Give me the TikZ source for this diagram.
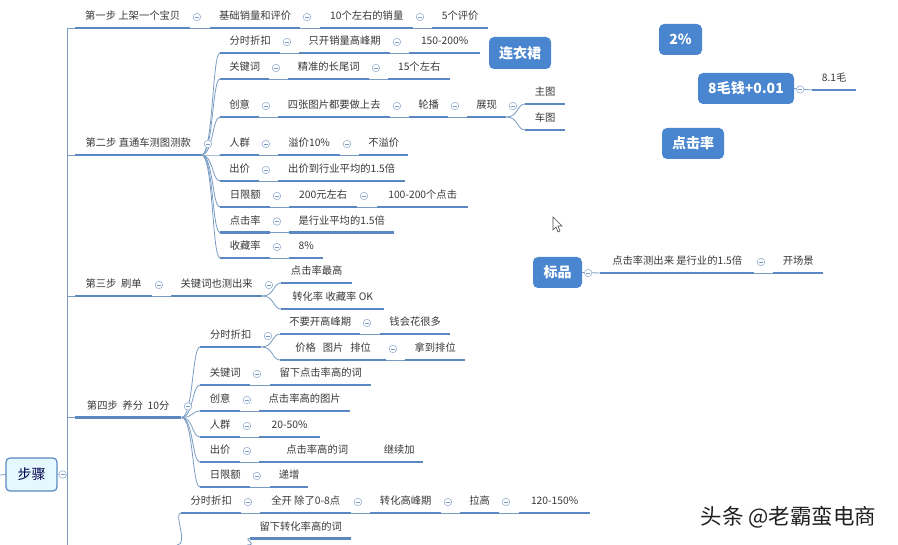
\documentclass[tikz,border=0pt]{standalone}
\usepackage{fontspec}
\setmainfont{Noto Sans CJK SC}
\usetikzlibrary{calc}
\definecolor{barblue}{HTML}{5B88C0}
\definecolor{linkblue}{HTML}{7A9CC4}
\definecolor{boxblue}{HTML}{4A85CF}
\tikzset{
  topic/.style={anchor=south west, inner xsep=0pt, inner ysep=6pt, text height=8.5pt, text depth=2pt,
    text=black!78, font=\fontsize{10.3}{12}\selectfont,
    append after command={(\tikzlastnode.south west) edge[bar] (\tikzlastnode.south east)}},
  bar/.style={draw=barblue, line width=2.4pt},
  link/.style={draw=linkblue, line width=0.8pt},
  fork/.style={link, to path={.. controls +(12,0) and +(-8,0) .. (\tikztotarget)}},
  toggle/.style={circle, draw=linkblue!80, fill=white, minimum size=7.5pt, inner sep=0pt, line width=0.6pt,
    path picture={\draw[linkblue, line width=0.6pt] ($(path picture bounding box.west)+(1.8,0)$) -- ($(path picture bounding box.east)+(-1.8,0)$);}},
  tag/.style={fill=boxblue, rounded corners=5pt, text=white, inner sep=0pt, font=\fontsize{14}{16}\selectfont\bfseries},
}
\begin{document}
\begin{tikzpicture}[x=1pt, y=-1pt]
\useasboundingbox (0,0) rectangle (898,545);
% root and trunk
\node[draw=barblue, line width=1.2pt, fill=blue!30!cyan!10!white, rounded corners=4pt, inner sep=0pt,
  minimum width=51pt, minimum height=33pt, text=black!70!blue, font=\fontsize{14}{16}\selectfont] (root) at (31.5,474.5) {步骤};
\coordinate (stub) at (0,475);
\coordinate (trunk) at (67,475);
\coordinate (trunkend) at (67,545);
\coordinate (s5up) at (177,545);
\coordinate (s5down) at (247,545);
% floating boxes
\node[tag, minimum width=62pt, minimum height=32pt] (dress) at (520,53) {连衣裙};
\node[tag, minimum width=43pt, minimum height=31pt] (rate) at (680.5,39.5) {2\%};
\node[tag, minimum width=96pt, minimum height=31pt] (price) at (746,88.5) {8毛钱+0.01};
\node[tag, minimum width=62pt, minimum height=31pt] (ctr) at (693,143.5) {点击率};
\node[tag, minimum width=49pt, minimum height=31pt] (std) at (557.5,272.5) {标品};
% all the topics: name/left/right/line/text
\foreach \name/\xa/\xb/\yy/\txt in {
  s1/75/190/28/第一步 上架一个宝贝, s1a/210/300/28/基础销量和评价, s1b/320/413/28/10个左右的销量, s1c/432/488/28/5个评价,
  s2/75/201/155/第二步 直通车测图测款,
  s2t/220/280/53/分时折扣, s2ta/299/390/53/只开销量高峰期, s2tb/409/480/53/150-200\%,
  s2k/220/269/79/关键词, s2ka/288/369/79/精准的长尾词, s2kb/388/450/79/15个左右,
  s2c/220/259/117/创意, s2ca/278/390/117/四张图片都要做上去, s2cb/409/448/117/轮播, s2cc/467/506/117/展现,
  s2cd/525/565/104/主图, s2ce/525/565/130/车图,
  s2p/220/259/155/人群, s2pa/278/340/155/溢价10\%, s2pb/359/408/155/不溢价,
  s2b/220/259/181/出价, s2ba/278/405/181/出价到行业平均的1.5倍,
  s2d/220/270/207/日限额, s2da/289/357/207/200元左右, s2db/377/468/207/100-200个点击,
  s2r/220/270/232.5/点击率, s2ra/289/394/232.5/是行业平均的1.5倍,
  s2f/220/270/258/收藏率, s2fa/289/323/258/8\%,
  s3/75/152/296/第三步~~刷单, s3a/171/262/296/关键词也测出来, s3b/281/352/283/点击率最高, s3c/281/384/309/转化率 收藏率 OK,
  s4/75/181/417.5/第四步~~养分~~10分,
  s4t/200/261/347/分时折扣, s4ta/280/360/334/不要开高峰期, s4tb/380/450/334/钱会花很多,
  s4tc/280/386/360/价格~~~图片~~~排位, s4td/405/465/360/拿到排位,
  s4k/200/250/385/关键词, s4ka/270/371/385/留下点击率高的词,
  s4c/200/240/411/创意, s4ca/259/350/411/点击率高的图片,
  s4p/200/240/437/人群, s4pa/259/320/437/20-50\%,
  s4b/200/240/462/出价, s4ba/259/375/462/点击率高的词, s4bb/375/423/462/继续加,
  s4d/200/250/487/日限额, s4da/270/308/487/递增,
  s5t/181/241/513/分时折扣, s5ta/260/351/513/全开 除了0-8点, s5tb/370/441/513/转化高峰期, s5tc/460/499/513/拉高, s5td/519/590/513/120-150\%,
  s5k/250/351/538.5/留下转化率高的词,
  pr/812/856/90/8.1毛, sta/600/754/273/点击率测出来~是行业的1.5倍, stb/773/823/273/开场景}
  \node[topic, minimum width={(\xb-\xa)*1pt}] (\name) at (\xa,\yy) {\txt};
% straight links along a row
\foreach \a/\b in {s1/s1a, s1a/s1b, s1b/s1c, s2t/s2ta, s2ta/s2tb, s2k/s2ka, s2ka/s2kb, s2c/s2ca, s2ca/s2cb, s2cb/s2cc,
  s2p/s2pa, s2pa/s2pb, s2b/s2ba, s2d/s2da, s2da/s2db, s2r/s2ra, s2f/s2fa, s3/s3a,
  s4ta/s4tb, s4tc/s4td, s4k/s4ka, s4c/s4ca, s4p/s4pa, s4b/s4ba, s4d/s4da,
  s5t/s5ta, s5ta/s5tb, s5tb/s5tc, s5tc/s5td, sta/stb}
  \draw[link] (\a.south east) -- (\b.south west);
% forks
\foreach \a/\b in {s2/s2t, s2/s2k, s2/s2c, s2/s2p, s2/s2b, s2/s2d, s2/s2r, s2/s2f,
  s2cc/s2cd, s2cc/s2ce, s3a/s3b, s3a/s3c,
  s4/s4t, s4/s4k, s4/s4c, s4/s4p, s4/s4b, s4/s4d, s4t/s4ta, s4t/s4tc}
  \draw[fork] (\a.south east) to (\b.south west);
\draw[fork] (s5up) to (s5t.south west);
\draw[fork] (s5down) to (s5k.south west);
% trunk
\draw[link] (stub) -- (root.west);
\draw[link] (root.east) -- (trunk);
\draw[link] (trunk) -- (trunkend);
\foreach \a in {s1, s2, s3, s4}
  \draw[link] (trunk) |- (\a.south west);
\draw[link] (price.east) -- (pr.south west);
\draw[link] (std.east) -- (sta.south west);
% fold marks
\foreach \a in {s1, s1a, s1b, s2, s2t, s2ta, s2k, s2ka, s2c, s2ca, s2cb, s2cc, s2p, s2pa, s2b, s2d, s2da, s2r, s2f,
  s3, s3a, s4, s4t, s4ta, s4tc, s4k, s4c, s4p, s4b, s4d, s5t, s5ta, s5tb, s5tc, sta}
  \node[toggle] (fold-\a) at ($(\a.south east)+(6.5,-11)$) {};
\node[toggle] (fold-root) at ($(root.east)+(5,0)$) {};
\node[toggle] (fold-price) at ($(price.east)+(6,1)$) {};
\node[toggle] (fold-std) at ($(std.east)+(6,0.5)$) {};
% screen leftovers
\draw[black!70, fill=white, line width=0.6pt] (553,217) -- (553,230) -- (556,227) -- (558,232) -- (560,231) -- (558,226) -- (562,226) -- cycle;
\node[text=black!88, inner sep=0pt, font=\fontsize{21.5}{24}\selectfont] (mark) at (788.5,517) {头条 @老霸蛮电商};
\end{tikzpicture}
\end{document}
